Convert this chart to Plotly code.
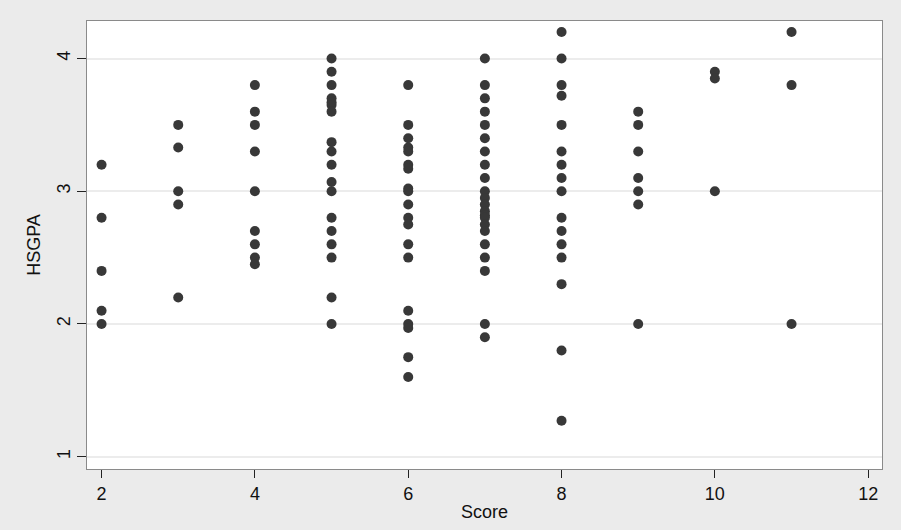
import plotly.graph_objects as go

scores = [2, 3, 4, 5, 6, 7, 8, 9, 10, 11]
gpa_2 = [3.2, 2.8, 2.4, 2.1, 2.0]
gpa_3 = [3.5, 3.33, 3.0, 2.9, 2.2]
gpa_4 = [3.8, 3.6, 3.5, 3.3, 3.0, 2.7, 2.6, 2.5, 2.45]
gpa_5 = [4.0, 3.9, 3.8, 3.7, 3.67, 3.65, 3.6, 3.37, 3.3, 3.2, 3.07, 3.0, 2.8, 2.7, 2.6, 2.5, 2.2, 2.0]
gpa_6 = [3.8, 3.5, 3.4, 3.33, 3.3, 3.2, 3.17, 3.02, 3.0, 2.9, 2.8, 2.75, 2.6, 2.5, 2.1, 2.0, 1.97, 1.75, 1.6]
gpa_7 = [4.0, 3.8, 3.7, 3.6, 3.5, 3.4, 3.3, 3.2, 3.1, 3.0, 2.95, 2.9, 2.85, 2.82, 2.8, 2.75, 2.7, 2.6, 2.5, 2.4, 2.0, 1.9]
gpa_8 = [4.2, 4.0, 3.8, 3.72, 3.5, 3.3, 3.2, 3.1, 3.0, 2.8, 2.7, 2.6, 2.5, 2.3, 1.8, 1.27]
gpa_9 = [3.6, 3.5, 3.3, 3.1, 3.0, 2.9, 2.0]
gpa_10 = [3.9, 3.85, 3.0]
gpa_11 = [4.2, 3.8, 2.0]
gpa_by_score = [gpa_2, gpa_3, gpa_4, gpa_5, gpa_6, gpa_7, gpa_8, gpa_9, gpa_10, gpa_11]

x_ticks = [2, 4, 6, 8, 10, 12]
y_ticks = [1, 2, 3, 4]

xs, ys = [], []
for s, vals in zip(scores, gpa_by_score):
    for v in vals:
        xs.append(s)
        ys.append(v)

fig = go.Figure(go.Scatter(
    x=xs, y=ys, mode="markers",
    marker=dict(color="#383838", size=10, line=dict(width=0)),
    showlegend=False,
))

font = dict(family="Liberation Sans, Arial, sans-serif", size=17, color="#111111")

fig.update_layout(
    width=901, height=530,
    paper_bgcolor="#ebebeb",
    plot_bgcolor="#ffffff",
    margin=dict(l=87, r=19, t=21, b=56),
    font=font,
    xaxis=dict(
        range=[1.81, 12.18], tickvals=x_ticks, ticks="outside", ticklen=8,
        tickcolor="#222222", showgrid=False, zeroline=False,
        showline=True, linecolor="#8a8a8a", linewidth=1, mirror=True,
        title=dict(text="Score", standoff=2, font=dict(size=18)),
        tickfont=dict(size=18),
    ),
    yaxis=dict(
        range=[0.907, 4.283], tickvals=y_ticks, ticks="outside", ticklen=9,
        tickcolor="#222222", tickangle=-90, showgrid=True, gridcolor="#ececec",
        gridwidth=1.5, zeroline=False,
        showline=True, linecolor="#8a8a8a", linewidth=1, mirror=True,
        title=dict(text="HSGPA", standoff=8, font=dict(size=18)),
        tickfont=dict(size=18),
    ),
)

fig.write_html(
    "out.html",
    config={"displayModeBar": False},
    post_script="document.body.style.margin='0px';document.body.style.background='#ebebeb';",
)
